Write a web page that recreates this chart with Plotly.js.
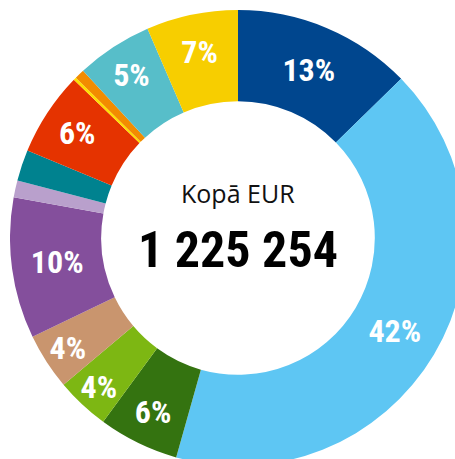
<!DOCTYPE html>
<html>
<head>
<meta charset="utf-8">
<script src="https://cdn.plot.ly/plotly-3.0.1.min.js"></script>
<style>
html,body{margin:0;padding:0;width:455px;height:459px;overflow:hidden;background:#fff;}
#chart{position:absolute;left:10px;top:10px;width:456px;height:456px;}
</style>
</head>
<body>
<div id="chart"></div>
<script>
// Shares of total (percent), clockwise from 12 o'clock
const categories = ["A","B","C","D","E","F","G","H","I","J","K","L","M"];
const shares = [12.7, 41.7, 5.7, 3.8, 4.0, 10.0, 1.2, 2.2, 5.95, 0.2, 0.7, 5.4, 6.5];
const labelsShown = ["13%","42%","6%","4%","4%","10%","","","6%","","","5%","7%"];
const colors = ["#00468E","#5EC6F3","#347310","#7DB713","#C9956E","#844F9C","#B9A0CC","#00828F","#E53300","#FFE000","#F28C00","#57BEC9","#F7CE00"];
const centerTitle = "Kopā EUR";
const centerTotal = "1 225 254";

const trace = {
  type: "pie",
  labels: categories,
  values: shares,
  text: labelsShown,
  textinfo: "text",
  textposition: "inside",
  insidetextorientation: "horizontal",
  sort: false,
  direction: "clockwise",
  rotation: 0,
  hole: 0.60,
  marker: {colors: colors, line: {width: 0}},
  textfont: {family: "Roboto Condensed, sans-serif", size: 32, color: "#ffffff", weight: 700},
  hoverinfo: "none",
  showlegend: false
};

const layout = {
  width: 456, height: 456,
  margin: {l:0, r:0, t:0, b:0},
  paper_bgcolor: "#ffffff",
  plot_bgcolor: "#ffffff",
  uniformtext: {minsize: 32, mode: "show"},
  annotations: [
    {text: centerTitle, x: 0.5, y: 0.598, xref: "paper", yref: "paper", showarrow: false,
     font: {family: "Open Sans, sans-serif", size: 25, color: "#111111"}},
    {text: centerTotal, x: 0.5, y: 0.474, xref: "paper", yref: "paper", showarrow: false,
     font: {family: "Roboto Condensed, sans-serif", size: 50, color: "#000000", weight: 700}}
  ]
};

Plotly.newPlot("chart", [trace], layout, {displayModeBar: false, staticPlot: true});
</script>
</body>
</html>
